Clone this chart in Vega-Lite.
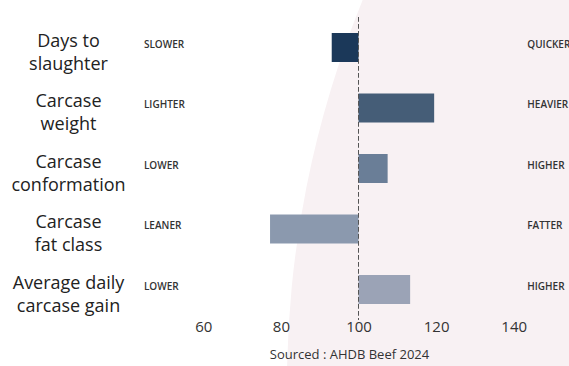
{
  "$schema": "https://vega.github.io/schema/vega-lite/v6.json",
  "autosize": {"type": "none"},
  "width": 426.8,
  "height": 302.5,
  "padding": {"left": 125.7, "top": 17.25, "right": 16.5, "bottom": 46.25},
  "background": "white",
  "config": {
    "view": {"stroke": null},
    "font": "Open Sans"
  },
  "data": {
    "values": [
      {"metric": "Days to slaughter", "value": 93.1, "left": "SLOWER", "right": "QUICKER"},
      {"metric": "Carcase weight", "value": 119.5, "left": "LIGHTER", "right": "HEAVIER"},
      {"metric": "Carcase conformation", "value": 107.5, "left": "LOWER", "right": "HIGHER"},
      {"metric": "Carcase fat class", "value": 77.2, "left": "LEANER", "right": "FATTER"},
      {"metric": "Average daily carcase gain", "value": 113.3, "left": "LOWER", "right": "HIGHER"}
    ]
  },
  "resolve": {"scale": {"y": "independent"}, "axis": {"y": "independent"}},
  "layer": [
    {
      "data": {"values": [{"shape": "background"}]},
      "mark": {"type": "point", "filled": true, "size": 4170000, "opacity": 1, "color": "#f8f1f3", "strokeWidth": 0},
      "encoding": {
        "x": {"datum": 344.7, "type": "quantitative", "scale": {"domain": [40, 150], "nice": false, "zero": false}},
        "y": {"datum": -0.22, "type": "quantitative", "scale": {"domain": [0, 1], "nice": false, "zero": false}, "axis": null}
      }
    },
    {
      "layer": [
        {
          "mark": {"type": "bar", "opacity": 0.95},
          "encoding": {
            "y": {
              "field": "metric", "type": "nominal", "sort": null,
              "scale": {"paddingInner": 0.52, "paddingOuter": 0.26},
              "axis": {
                "title": null, "domain": false, "ticks": false, "zindex": 1,
                "labelAlign": "center", "labelBaseline": "middle",
                "labelPadding": 57.7, "labelFontSize": 18, "labelColor": "#222222",
                "labelFont": "Open Sans", "labelLineHeight": 23, "labelOffset": -6,
                "labelExpr": "{'Days to slaughter':['Days to','slaughter'],'Carcase weight':['Carcase','weight'],'Carcase conformation':['Carcase','conformation'],'Carcase fat class':['Carcase','fat class'],'Average daily carcase gain':['Average daily','carcase gain']}[datum.value]"
              }
            },
            "x": {
              "field": "value", "type": "quantitative",
              "scale": {"domain": [40, 150], "nice": false, "zero": false},
              "axis": {
                "title": "Sourced : AHDB Beef 2024",
                "titleFont": "Open Sans", "titleFontSize": 13, "titleFontWeight": "normal",
                "titleColor": "#333333", "titlePadding": 14, "titleX": 223.3,
                "values": [60, 80, 100, 120, 140], "grid": false, "zindex": 1,
                "domain": false, "ticks": false, "labelFontSize": 15,
                "labelColor": "#333333", "labelPadding": 0, "labelFont": "Open Sans"
              }
            },
            "x2": {"datum": 100},
            "color": {
              "field": "metric", "type": "nominal", "legend": null,
              "scale": {
                "domain": ["Days to slaughter", "Carcase weight", "Carcase conformation", "Carcase fat class", "Average daily carcase gain"],
                "range": ["#0f2d50", "#3b5470", "#627791", "#8594aa", "#969eb2"]
              }
            }
          }
        },
        {
          "mark": {"type": "rule", "strokeDash": [4, 3], "color": "#555555", "strokeWidth": 1},
          "encoding": {"x": {"datum": 100}}
        },
        {
          "mark": {"type": "text", "align": "left", "baseline": "middle", "fontSize": 10, "fontWeight": 600, "color": "#333333", "dy": -3},
          "encoding": {
            "y": {"field": "metric", "type": "nominal", "sort": null},
            "x": {"datum": 44.7},
            "text": {"field": "left"}
          }
        },
        {
          "mark": {"type": "text", "align": "left", "baseline": "middle", "fontSize": 10, "fontWeight": 600, "color": "#333333", "dy": -3},
          "encoding": {
            "y": {"field": "metric", "type": "nominal", "sort": null},
            "x": {"datum": 143.5},
            "text": {"field": "right"}
          }
        }
      ]
    }
  ]
}
